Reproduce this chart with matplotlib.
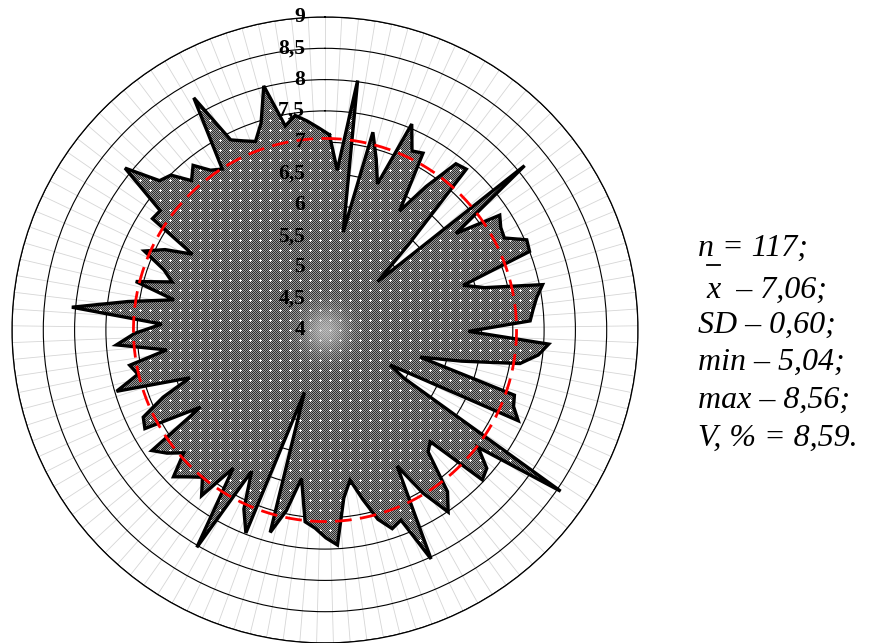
import numpy as np
import matplotlib
matplotlib.use('Agg')
import matplotlib.pyplot as plt
from matplotlib.transforms import offset_copy
from matplotlib.lines import Line2D

values = [
    7.12, 6.56, 8.02, 5.59, 7.25, 6.85, 6.48, 7.57, 7.18, 7.23,
    6.24, 6.80, 7.38, 7.42, 5.90, 5.14, 8.13, 6.60, 7.34, 7.25,
    7.22, 7.53, 7.50, 6.32, 6.64, 7.55, 7.42, 7.34, 7.28, 6.29,
    7.58, 7.43, 7.16, 6.24, 5.58, 7.20, 7.25, 7.41, 5.18, 5.46,
    8.56, 7.08, 7.40, 7.47, 6.45, 6.55, 7.24, 7.51, 7.04, 6.46,
    8.03, 7.27, 7.35, 7.14, 6.77, 6.43, 6.70, 7.44, 7.32, 7.17,
    7.08, 6.40, 6.95, 7.35, 5.05, 7.48, 7.14, 6.54, 8.03, 6.65,
    7.30, 7.06, 7.20, 7.37, 6.99, 7.20, 7.37, 6.34, 7.28, 7.22,
    6.80, 6.29, 7.47, 7.07, 7.17, 6.55, 7.34, 7.04, 6.61, 8.06,
    7.18, 6.46, 7.12, 6.56, 6.75, 7.15, 6.86, 6.44, 7.28, 7.25,
    8.11, 7.56, 7.49, 7.20, 7.37, 7.14, 7.05, 8.26, 7.39, 7.29,
    7.21, 7.46, 8.02, 7.32, 7.46, 7.35, 7.23,
]
ring_values = [4, 4.5, 5, 5.5, 6, 6.5, 7, 7.5, 8, 8.5, 9]
ring_labels = ['4', '4,5', '5', '5,5', '6', '6,5', '7', '7,5', '8', '8,5', '9']
n_obs = 117
mean_val = 7.06
sd_val = 0.60
min_val = 5.04
max_val = 8.56
cv_val = 8.59

W, H = 872, 643
fig = plt.figure(figsize=(W / 100, H / 100), dpi=100)
cx, cy, R = 325, 330, 313
rect = [(cx - R) / W, (H - cy - R) / H, 2 * R / W, 2 * R / H]

step = 2 * np.pi / len(values)
spokes = np.arange(len(values)) * step
theta = spokes + np.radians(1.3)   # polygon sits slightly clockwise of the spokes
theta_c = np.append(theta, theta[0] + 2 * np.pi)
vals_c = np.append(values, values[0])


def setup(a):
    a.set_theta_zero_location('N')
    a.set_theta_direction(-1)
    a.set_xticks(spokes)
    a.set_xticklabels([])
    a.set_yticks(ring_values[1:])
    a.set_yticklabels([])
    a.set_ylim(ring_values[0], ring_values[-1])
    a.tick_params(length=0)


# background: spokes and rings
ax = fig.add_axes(rect, projection='polar')
setup(ax)
ax.xaxis.grid(True, color='#d6d6d6', lw=0.6)
ax.yaxis.grid(True, color='black', lw=0.8)
ax.spines['polar'].set_color('black')
ax.spines['polar'].set_linewidth(0.9)
clip = ax.fill(theta_c, vals_c, facecolor='none', edgecolor='none')[0]

# dotted grey fill texture, clipped to the polygon
yy, xx = np.mgrid[0:H, 0:W]
tex = np.where((xx + yy) % 2 == 0, 0.18, 0.60)
mx, my = xx % 10, yy % 10
cross = ((mx == 0) & ((my <= 1) | (my == 9))) | ((my == 0) & ((mx <= 1) | (mx == 9)))
tex[cross] = 1.0
d = np.hypot(xx - cx, yy - cy)
g = 0.7 * np.exp(-(d / 22.0) ** 2)
tex = tex * (1 - g) + 0.8 * g
im = fig.figimage(np.dstack([tex] * 3), xo=0, yo=0, origin='upper', zorder=1)
im.set_clip_path(clip)

# foreground: outline, mean circle, labels
ax2 = fig.add_axes(rect, projection='polar', zorder=2)
setup(ax2)
ax2.grid(False)
ax2.patch.set_visible(False)
ax2.spines['polar'].set_visible(False)
ax2.plot(theta_c, vals_c, color='black', lw=2.4, solid_joinstyle='miter')
tt = np.linspace(0, 2 * np.pi, 500)
ax2.plot(tt, np.full_like(tt, mean_val), color='#ff0000', lw=2.0, ls=(0, (6, 3)))

lab_tr = offset_copy(ax2.transData, fig=fig, x=-20, y=0, units='dots')
for r, lbl in zip(ring_values, ring_labels):
    ax2.text(0, r, lbl, transform=lab_tr, ha='right', va='center',
             family='Liberation Serif', fontweight='bold', fontsize=15.5)


# statistics block
def fmt(v):
    return ('%.2f' % v).replace('.', ',')


stats = [
    'n = %d;' % n_obs,
    'x  – %s;' % fmt(mean_val),
    'SD – %s;' % fmt(sd_val),
    'min – %s;' % fmt(min_val),
    'max – %s;' % fmt(max_val),
    'V, %% = %s.' % fmt(cv_val),
]
stat_x = [698, 706, 698, 698, 698, 698]
baselines = [256, 298, 333, 370, 408, 446]
for s, x0, yb in zip(stats, stat_x, baselines):
    fig.text(x0 / W, (H - yb) / H, s, ha='left', va='baseline',
             family='Liberation Serif', style='italic', fontsize=23)
fig.add_artist(Line2D([707 / W, 720 / W], [(H - 265) / H, (H - 265) / H],
                      color='black', lw=1.3, transform=fig.transFigure))

fig.savefig('out.png', dpi=100)
